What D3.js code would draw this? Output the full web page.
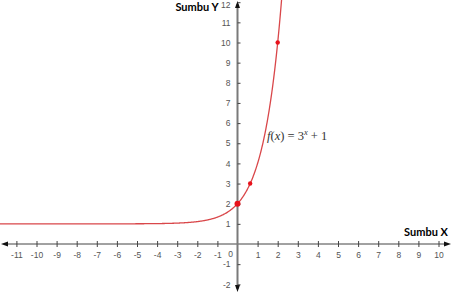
<!DOCTYPE html>
<html>
<head>
<meta charset="utf-8">
<script src="https://cdn.jsdelivr.net/npm/d3@7"></script>
<style>
  body { margin: 0; background: #fff; }
  svg { display: block; }
  .tick text { font-family: "Liberation Sans", Arial, sans-serif; font-size: 8.5px; fill: #555; }
</style>
</head>
<body>
<div id="chart"></div>
<script>
// data
const xTicks = [-11, -10, -9, -8, -7, -6, -5, -4, -3, -2, -1, 1, 2, 3, 4, 5, 6, 7, 8, 9, 10];
const yTicks = [-2, -1, 1, 2, 3, 4, 5, 6, 7, 8, 9, 10, 11, 12];
const pointsX = [0, 0.63, 2];
const pointsY = [2, 3, 10];
const f = x => Math.pow(3, x) + 1;

const width = 452, height = 295;

const x = d3.scaleLinear().domain([0, 10]).range([237.5, 438.5]);
const y = d3.scaleLinear().domain([0, 10]).range([244, 42.5]);

const svg = d3.select("#chart")
  .append("svg")
  .attr("width", width)
  .attr("height", height);

const axisColor = "#444";

// sumbu x
svg.append("line")
  .attr("x1", 4).attr("x2", 446)
  .attr("y1", y(0)).attr("y2", y(0))
  .attr("stroke", axisColor).attr("stroke-width", 1);

// sumbu y
svg.append("line")
  .attr("x1", x(0)).attr("x2", x(0))
  .attr("y1", 4).attr("y2", 289)
  .attr("stroke", "#7a7a7a").attr("stroke-width", 2);

// panah
const arrow = (pts) => svg.append("path")
  .attr("d", "M" + pts.join("L") + "Z")
  .attr("fill", "#111");
arrow([[1, y(0)], [8, y(0) - 2.5], [8, y(0) + 2.5]]);
arrow([[451, y(0)], [444, y(0) - 2.5], [444, y(0) + 2.5]]);
arrow([[x(0), 1], [x(0) - 2.5, 8], [x(0) + 2.5, 8]]);
arrow([[x(0), 292], [x(0) - 2.5, 285], [x(0) + 2.5, 285]]);

// tick x
const gx = svg.append("g")
  .attr("transform", "translate(0," + y(0) + ")")
  .call(d3.axisBottom(x).tickValues(xTicks).tickFormat(d => String(d))
    .tickSizeInner(3).tickSizeOuter(0).tickPadding(5));
gx.select(".domain").remove();
gx.selectAll(".tick line").attr("y1", -3).attr("stroke", axisColor);

// tick y
const gy = svg.append("g")
  .attr("transform", "translate(" + x(0) + ",0)")
  .call(d3.axisLeft(y).tickValues(yTicks).tickFormat(d => String(d))
    .tickSizeInner(3).tickSizeOuter(0).tickPadding(4));
gy.select(".domain").remove();
gy.selectAll(".tick line").attr("x2", 3).attr("stroke", axisColor);
// label 12 jangan terpotong
gy.selectAll(".tick text").filter(d => d === 12).attr("dy", "0.75em").attr("y", -1.5);

// nol
svg.append("text")
  .attr("x", x(0) - 7).attr("y", y(0) + 13)
  .attr("text-anchor", "middle")
  .style("font-family", "Liberation Sans, Arial, sans-serif")
  .style("font-size", "8.5px").style("fill", "#555")
  .text("0");

// kurva
const xs = d3.range(-11.85, 2.5, 0.02);
const line = d3.line()
  .x(d => x(d))
  .y(d => y(f(d)));
svg.append("path")
  .datum(xs.filter(d => f(d) < 12.5))
  .attr("d", line)
  .attr("fill", "none")
  .attr("stroke", "#d9474a")
  .attr("stroke-width", 1.3);

// titik
svg.selectAll(".pt")
  .data(pointsX.map((d, i) => [d, pointsY[i]]))
  .enter()
  .append("circle")
  .attr("class", "pt")
  .attr("cx", d => x(d[0]))
  .attr("cy", d => y(d[1]))
  .attr("r", (d, i) => i === 0 ? 3 : 2.2)
  .attr("fill", "#e8121b");

// label sumbu
svg.append("text")
  .attr("x", 197).attr("y", 11)
  .attr("text-anchor", "middle")
  .style("font-family", "Lato, sans-serif")
  .style("font-weight", "bold")
  .style("font-size", "11px")
  .text("Sumbu Y");
svg.append("text")
  .attr("x", 426).attr("y", 236)
  .attr("text-anchor", "middle")
  .style("font-family", "Lato, sans-serif")
  .style("font-weight", "bold")
  .style("font-size", "11px")
  .text("Sumbu X");

// label fungsi
const ft = svg.append("text")
  .attr("x", 267).attr("y", 140)
  .style("font-family", "Liberation Serif, Times New Roman, serif")
  .style("font-size", "12.5px")
  .style("fill", "#333");
ft.append("tspan").style("font-style", "italic").text("f");
ft.append("tspan").text("(");
ft.append("tspan").style("font-style", "italic").text("x");
ft.append("tspan").text(") = 3");
ft.append("tspan").attr("dy", -5).style("font-size", "8.5px").style("font-style", "italic").text("x");
ft.append("tspan").attr("dy", 5).text(" + 1");
</script>
</body>
</html>
